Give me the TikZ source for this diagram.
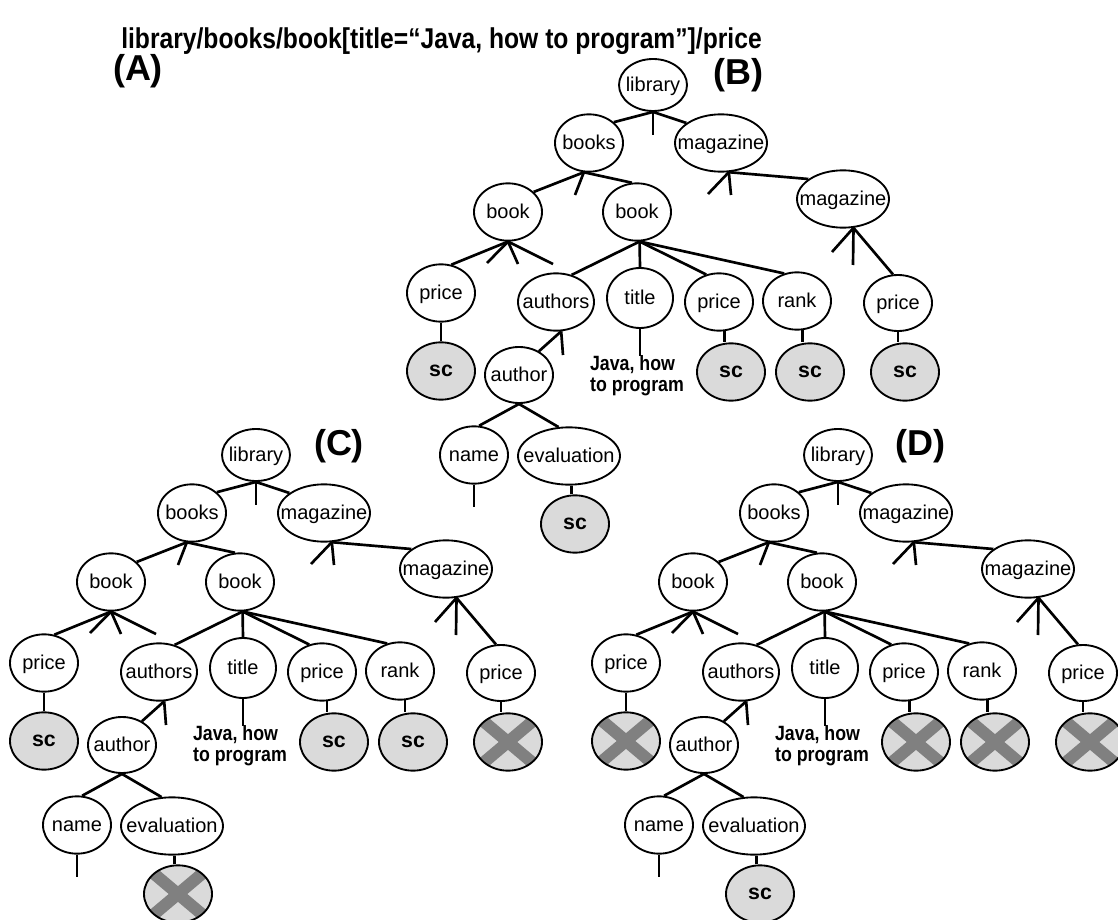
\documentclass[tikz,border=0pt]{standalone}
\usepackage{fontspec}
\setmainfont{Liberation Sans}
\newfontfamily\narrowsans{Liberation Sans}[FakeStretch=0.86]
\usetikzlibrary{shapes.geometric}

\definecolor{leafgray}{HTML}{DADADA}
\definecolor{xgray}{HTML}{808080}

% label text that does not widen the ellipse around it
\newcommand\nt[1]{\makebox[0pt]{#1}}

\tikzset{
  nd/.style={ellipse, draw, fill=white, line width=1.4pt, minimum width=#1,
    minimum height=43pt, inner sep=0pt, text height=11.6pt, text depth=2pt,
    font=\fontsize{15}{17}\selectfont},
  nd/.default=51pt,
  leaf/.style={ellipse, draw, fill=leafgray, line width=1.4pt, minimum width=51pt,
    minimum height=43pt, inner sep=0pt},
  scleaf/.style={path picture={\node[font=\bfseries\fontsize{16}{17}\selectfont,
    text height=10.4pt, text depth=2pt]
    at (path picture bounding box.center) {sc};}},
  xleaf/.style={path picture={\draw[line width=9pt, xgray]
    (path picture bounding box.north west) -- (path picture bounding box.south east)
    (path picture bounding box.north east) -- (path picture bounding box.south west);}},
  edge/.style={line width=2pt},
  javatxt/.style={font=\narrowsans\bfseries\fontsize{15.5}{15.75}\selectfont,
    align=left, inner sep=0pt},
  tag/.style={font=\bfseries\fontsize{27}{30}\selectfont, inner sep=0pt},
}

% one XML tree; #1 name prefix, #2 shift, #3..#7 styles of the five leaves
\newcommand\xmltree[7]{%
\begin{scope}[shift={#2}]
  \node[nd, minimum height=39pt] (#1-lib) at (653,85) {\nt{library}};
  \node[nd] (#1-books) at (589,143) {\nt{books}};
  \node[nd=69pt] (#1-mag) at (721,143) {\nt{magazine}};
  \node[nd] (#1-bookL) at (508,212) {\nt{book}};
  \node[nd] (#1-bookR) at (637,212) {\nt{book}};
  \node[nd=69pt] (#1-magB) at (843,199) {\nt{magazine}};
  \node[nd] (#1-priceL) at (441,293) {\nt{price}};
  \node[nd=57pt] (#1-authors) at (556,302) {\nt{authors}};
  \node[nd=49.5pt, minimum height=45pt] (#1-title) at (640,298) {\nt{title}};
  \node[nd] (#1-price) at (719,302) {\nt{price}};
  \node[nd] (#1-rank) at (797,301) {\nt{rank}};
  \node[nd, minimum height=42pt] (#1-priceM) at (898,303) {\nt{price}};
  \node[nd, minimum height=42pt] (#1-author) at (519,375) {\nt{author}};
  \node[nd] (#1-name) at (474,455) {\nt{name}};
  \node[nd=76.5pt] (#1-eval) at (569,456) {\nt{evaluation}};
  \node[javatxt] (#1-java) at (637,376) {Java, how\\to program};
  \node[leaf,#3] (#1-leafL) at (441,371) {};
  \node[leaf,#4] (#1-leafP) at (731,372) {};
  \node[leaf,#5] (#1-leafR) at (810,372) {};
  \node[leaf,#6] (#1-leafM) at (905,372) {};
  \node[leaf,#7] (#1-leafE) at (575,524) {};
  % loose branch ends
  \coordinate (#1-s1) at (653,135);
  \coordinate (#1-s2) at (575,195);
  \coordinate (#1-s3) at (487,263);
  \coordinate (#1-s4) at (518,264);
  \coordinate (#1-s5) at (553,264);
  \coordinate (#1-s6) at (731,195);
  \coordinate (#1-s7) at (708,194);
  \coordinate (#1-s8) at (853,265);
  \coordinate (#1-s9) at (832,252);
  \coordinate (#1-s10) at (563,355);
  \coordinate (#1-s11) at (474,507);
  % branches
  \draw[edge] (#1-lib.south) -- (#1-books.40);
  \draw[edge] (#1-lib.south) -- (#1-mag.150);
  \draw[edge] (#1-lib.south) -- (#1-s1);
  \draw[edge] (#1-books.-100) -- (#1-bookL.38);
  \draw[edge] (#1-books.-100) -- (#1-bookR.100);
  \draw[edge] (#1-books.-100) -- (#1-s2);
  \draw[edge] (#1-bookL.south) -- (#1-priceL.70);
  \draw[edge] (#1-bookL.south) -- (#1-s3);
  \draw[edge] (#1-bookL.south) -- (#1-s4);
  \draw[edge] (#1-bookL.south) -- (#1-s5);
  \draw[edge] (#1-bookR.-85) -- (#1-authors.60);
  \draw[edge] (#1-bookR.-85) -- (#1-title.north);
  \draw[edge] (#1-bookR.-85) -- (#1-price.115);
  \draw[edge] (#1-bookR.-85) -- (#1-rank.115);
  \draw[edge] (#1-mag.-75) -- (#1-magB.150);
  \draw[edge] (#1-mag.-75) -- (#1-s6);
  \draw[edge] (#1-mag.-75) -- (#1-s7);
  \draw[edge] (#1-magB.-70) -- (#1-priceM.100);
  \draw[edge] (#1-magB.-70) -- (#1-s8);
  \draw[edge] (#1-magB.-70) -- (#1-s9);
  \draw[edge] (#1-authors.-80) -- (#1-author.50);
  \draw[edge] (#1-authors.-80) -- (#1-s10);
  \draw[edge] (#1-author.south) -- (#1-name.80);
  \draw[edge] (#1-author.south) -- (#1-eval.110);
  \draw[edge] (#1-name.south) -- (#1-s11);
  \draw[edge] (#1-title.south) -- (#1-title.south |- #1-java.north);
  \draw[edge] (#1-priceL.south) -- (#1-leafL.north);
  \draw[edge] (#1-price.-80) -- (#1-price.-80 |- #1-leafP.north);
  \draw[edge] (#1-rank.-80) -- (#1-rank.-80 |- #1-leafR.north);
  \draw[edge] (#1-priceM.south) -- (#1-priceM.south |- #1-leafM.north);
  \draw[edge] (#1-eval.-85) -- (#1-eval.-85 |- #1-leafE.north);
\end{scope}}

\begin{document}
\begin{tikzpicture}[x=0.75pt, y=-0.75pt]
  \fill[white] (0,0) rectangle (1118,920);
  \path[use as bounding box] (0,0) rectangle (1118,920);

  \node[anchor=base west, inner sep=0pt,
        font=\narrowsans\bfseries\fontsize{21.5}{23}\selectfont] (query) at (121,49)
    {library/books/book[title=“Java, how to program”]/price};
  \node[tag] (tagA) at (138,71) {(A)};
  \node[tag] (tagB) at (738,75) {(B)};
  \node[tag] (tagC) at (339,446) {(C)};
  \node[tag] (tagD) at (920,446) {(D)};

  \xmltree{b}{(0,0)}{scleaf}{scleaf}{scleaf}{scleaf}{scleaf}
  \xmltree{c}{(-397,370)}{scleaf}{scleaf}{scleaf}{xleaf}{xleaf}
  \xmltree{d}{(185,370)}{xleaf}{xleaf}{xleaf}{xleaf}{scleaf}
\end{tikzpicture}
\end{document}
